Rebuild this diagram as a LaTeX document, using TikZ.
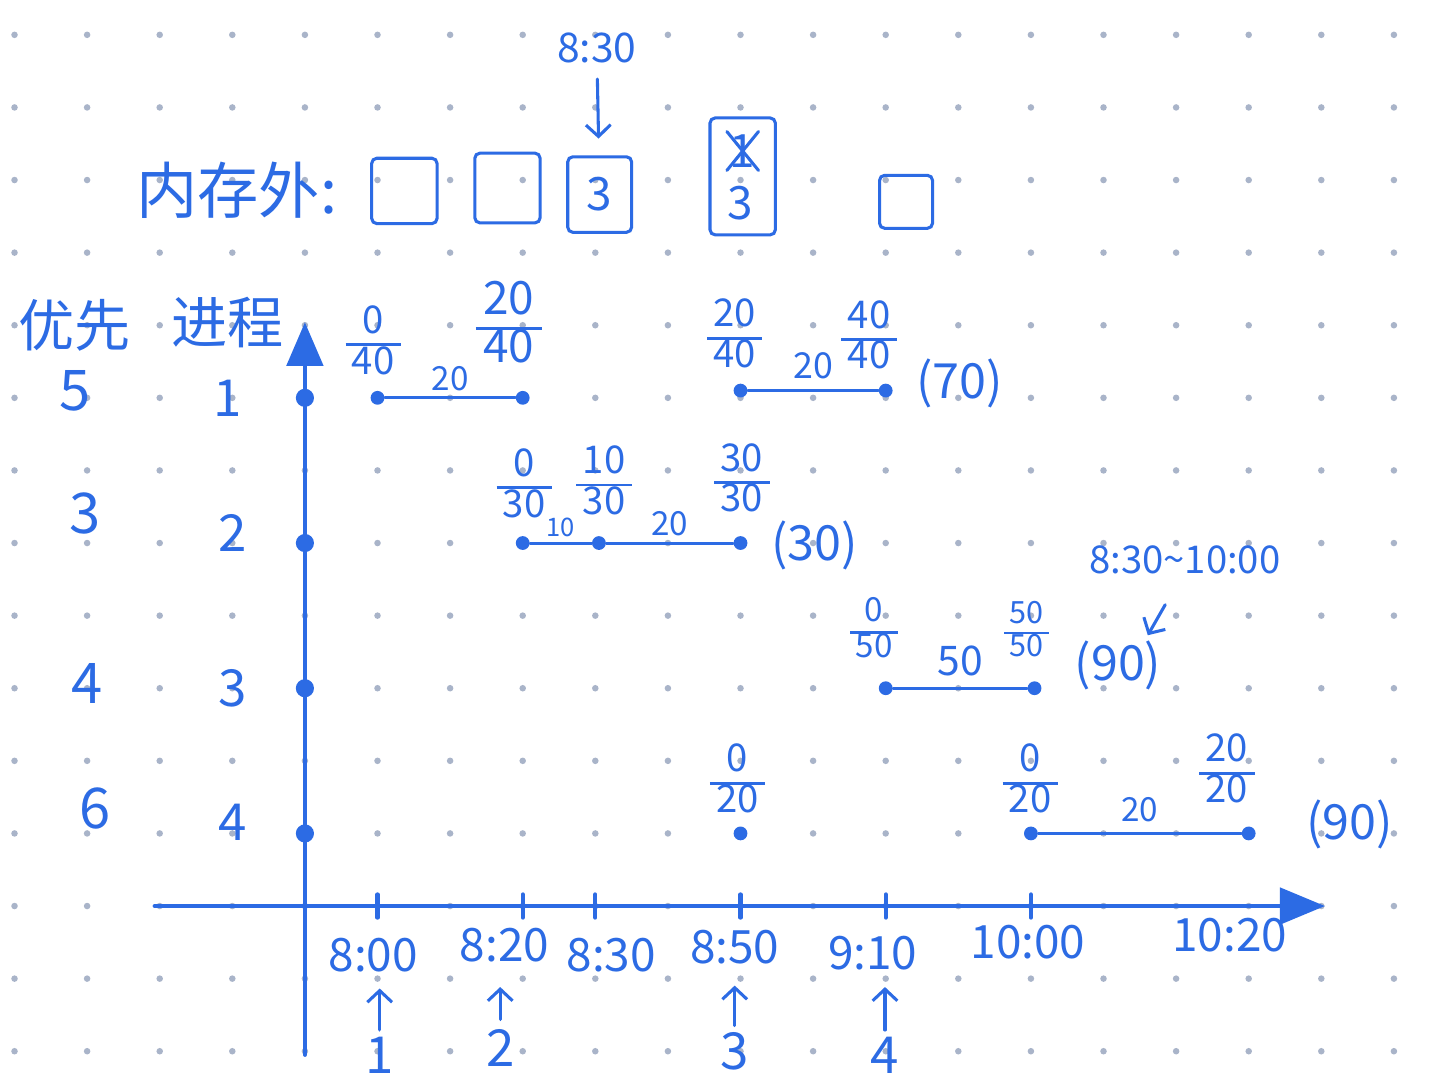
\documentclass[tikz,border=0pt]{standalone}
\usepackage{fontspec}
\setmainfont{Noto Sans CJK SC}
\usepackage{tikz}
\usetikzlibrary{arrows.meta}
\definecolor{ink}{HTML}{2C6BE4}
\definecolor{dotgrey}{HTML}{A9B4C9}
\newcommand\fsz[1]{\fontsize{#1pt}{#1pt}\selectfont}
\newcommand\frc[2]{{\renewcommand\arraystretch{0.9}\setlength\arrayrulewidth{1.1pt}%
  \begin{tabular}{@{\,}c@{\,}}#1\\\hline #2\end{tabular}}}

\begin{document}
\begin{tikzpicture}[
  x=1cm, y=1cm, line cap=round,
  axis/.style={draw=ink, line width=1.6pt},
  pen/.style={draw=ink, line width=1.2pt},
  pt/.style={circle, fill=ink, inner sep=0pt, minimum size=0.19cm},
  bigpt/.style={circle, fill=ink, inner sep=0pt, minimum size=0.25cm},
  slot/.style={
    draw=ink,
    line width=1.2pt,
    rounded corners=2pt,
    minimum width=0.9cm,
    minimum height=0.9cm,
    text=ink,
    font=\fsz{18}
  },
  hand/.style={text=ink, inner sep=1pt, font=\fsz{22}},
  tick/.style={text=ink, inner sep=1pt, font=\fsz{18}},
  frac/.style={text=ink, inner sep=0pt, font=\fsz{15}},
  seglab/.style={text=ink, inner sep=1pt, font=\fsz{13}},
  total/.style={text=ink, inner sep=1pt, font=\fsz{19}},
  note/.style={draw=ink, line width=1.2pt, -{Straight Barb[length=1.6mm,width=3.4mm]}}
]
  \fill[white] (-4.2,-2.47) rectangle (15.58,12.48);
  \useasboundingbox (-4.2,-2.47) rectangle (15.58,12.48);
  \foreach \i in {-4,...,15}
    \foreach \j in {-2,...,12}
      \fill[dotgrey] (\i,\j) circle (0.045);

  % memory slots
  \node[text=ink, font=\fsz{24}] (memlab) at (-0.94,9.86) {内存外:};
  \node[slot] (s1) at (1.37,9.85) {};
  \node[slot, minimum height=0.96cm] (s2) at (2.79,9.89) {};
  \node[slot, minimum width=0.88cm, minimum height=1.04cm] (s3) at (4.06,9.8) {3};
  \node[slot, minimum height=1.61cm] (s4) at (6.03,10.05) {};
  \node[text=ink, font=\fsz{18}, inner sep=1pt] (s4a) at (6.03,10.4) {1};
  \node[text=ink, font=\fsz{18}, inner sep=1pt] (s4b) at (6.0,9.68) {3};
  \draw[pen] (s4a.south west) -- (s4a.north east);
  \draw[pen] (s4a.north west) -- (s4a.south east);
  \node[slot, minimum width=0.73cm, minimum height=0.73cm] (s5) at (8.28,9.7) {};
  \node[text=ink, font=\fsz{16}, inner sep=1pt] (t830) at (4.02,11.82) {8:30};
  \draw[note, shorten <=0.18cm, shorten >=0.23cm] (t830) -- (s3);

  % headers
  \node[hand] (hprio) at (-3.17,8.0) {优先};
  \node[hand] (hproc) at (-1.06,8.04) {进程};
  \node[hand] (pr1) at (-3.17,7.1) {5};
  \node[hand] (pr2) at (-3.03,5.41) {3};
  \node[hand] (pr3) at (-3.0,3.07) {4};
  \node[hand] (pr4) at (-2.89,1.35) {6};
  \node[hand, font=\fsz{20}] (pc1) at (-1.06,7.0) {1};
  \node[hand, font=\fsz{20}] (pc2) at (-0.99,5.14) {2};
  \node[hand, font=\fsz{20}] (pc3) at (-1.0,3.0) {3};
  \node[hand, font=\fsz{20}] (pc4) at (-1.0,1.16) {4};

  % axes
  \coordinate (xs) at (-2.07,0);
  \coordinate (xe) at (14.05,0);
  \coordinate (ys) at (0,-2.05);
  \coordinate (ye) at (0,8.04);
  \draw[axis, -{Triangle[length=0.62cm,width=0.5cm]}] (xs) -- (xe);
  \draw[axis, -{Triangle[length=0.6cm,width=0.5cm]}] (ys) -- (ye);
  \foreach \x in {1,3,4,6,8,10}
    \draw[axis] (\x,-0.16) -- (\x,0.16);
  \foreach \y/\n in {7/y1,5/y2,3/y3,1/y4}
    \node[bigpt] (\n) at (0,\y) {};

  \node[tick] (l800) at (0.94,-0.67) {8:00};
  \node[tick] (l820) at (2.75,-0.54) {8:20};
  \node[tick] (l830) at (4.22,-0.67) {8:30};
  \node[tick] (l850) at (5.92,-0.57) {8:50};
  \node[tick] (l910) at (7.82,-0.65) {9:10};
  \node[tick] (l1000) at (9.96,-0.5) {10:00};
  \node[tick] (l1020) at (12.74,-0.4) {10:20};

  \node[hand, font=\fsz{20}] (n1) at (1.03,-2.05) {1};
  \node[hand, font=\fsz{20}] (n2) at (2.69,-1.96) {2};
  \node[hand, font=\fsz{20}] (n3) at (5.92,-2.0) {3};
  \node[hand, font=\fsz{20}] (n4) at (7.99,-2.05) {4};
  \draw[note, shorten <=0.05cm, shorten >=0.19cm] (n1) -- (n1 |- l800.south);
  \draw[note, shorten <=0.1cm, shorten >=0.3cm] (n2) -- (n2 |- l820.south);
  \draw[note, shorten <=0.05cm, shorten >=0.25cm] (n3) -- (n3 |- l850.south);
  \draw[note, shorten <=0.05cm, shorten >=0.19cm] (n4) -- (n4 |- l910.south);

  % process 1
  \node[pt] (a1) at (1,7) {};
  \node[pt] (a2) at (3,7) {};
  \node[pt] (a3) at (6,7.1) {};
  \node[pt] (a4) at (8,7.1) {};
  \draw[pen] (a1) -- node[seglab, above=1pt] {20} (a2);
  \draw[pen] (a3) -- node[seglab, above=3pt, font=\fsz{14}] {20} (a4);
  \node[frac] (fa1) at (0.94,7.73) {\frc{0}{40}};
  \node[frac, font=\fsz{18}] (fa2) at (2.81,7.96) {\frc{20}{40}};
  \node[frac] (fa3) at (5.92,7.82) {\frc{20}{40}};
  \node[frac] (fa4) at (7.77,7.8) {\frc{40}{40}};
  \node[total] (ta) at (9.02,7.2) {(70)};

  % process 2
  \node[pt] (b1) at (3,5) {};
  \node[pt] (b2) at (4.05,5) {};
  \node[pt] (b3) at (6,5) {};
  \draw[pen] (b1) -- node[seglab, above=1pt, font=\fsz{10}] {10} (b2);
  \draw[pen] (b2) -- node[seglab, above=1pt] {20} (b3);
  \node[frac] (fb1) at (3.02,5.76) {\frc{0}{30}};
  \node[frac] (fb2) at (4.12,5.8) {\frc{10}{30}};
  \node[frac] (fb3) at (6.02,5.83) {\frc{30}{30}};
  \node[total] (tb) at (7.02,4.97) {(30)};

  % process 3
  \node[pt] (c1) at (8,3) {};
  \node[pt] (c2) at (10.05,3) {};
  \draw[pen] (c1) -- node[seglab, above=3pt, font=\fsz{16}] {50} (c2);
  \node[frac, font=\fsz{13}] (fc1) at (7.84,3.77) {\frc{0}{50}};
  \node[frac, font=\fsz{12}] (fc2) at (9.94,3.76) {\frc{50}{50}};
  \node[total] (tc) at (11.2,3.32) {(90)};
  \node[text=ink, font=\fsz{15}, inner sep=1pt] (rng) at (12.12,4.77) {8:30\textasciitilde10:00};
  \coordinate (r3a) at (11.85,4.15);
  \coordinate (r3b) at (11.61,3.73);
  \draw[note] (r3a) -- (r3b);

  % process 4
  \node[pt] (d0) at (6,1) {};
  \node[pt] (d1) at (10,1) {};
  \node[pt] (d2) at (13,1) {};
  \draw[pen] (d1) -- node[seglab, above=3pt] {20} (d2);
  \node[frac] (fd0) at (5.96,1.69) {\frc{0}{20}};
  \node[frac] (fd1) at (9.99,1.69) {\frc{0}{20}};
  \node[frac] (fd2) at (12.7,1.83) {\frc{20}{20}};
  \node[total] (td) at (14.39,1.12) {(90)};
\end{tikzpicture}
\end{document}
